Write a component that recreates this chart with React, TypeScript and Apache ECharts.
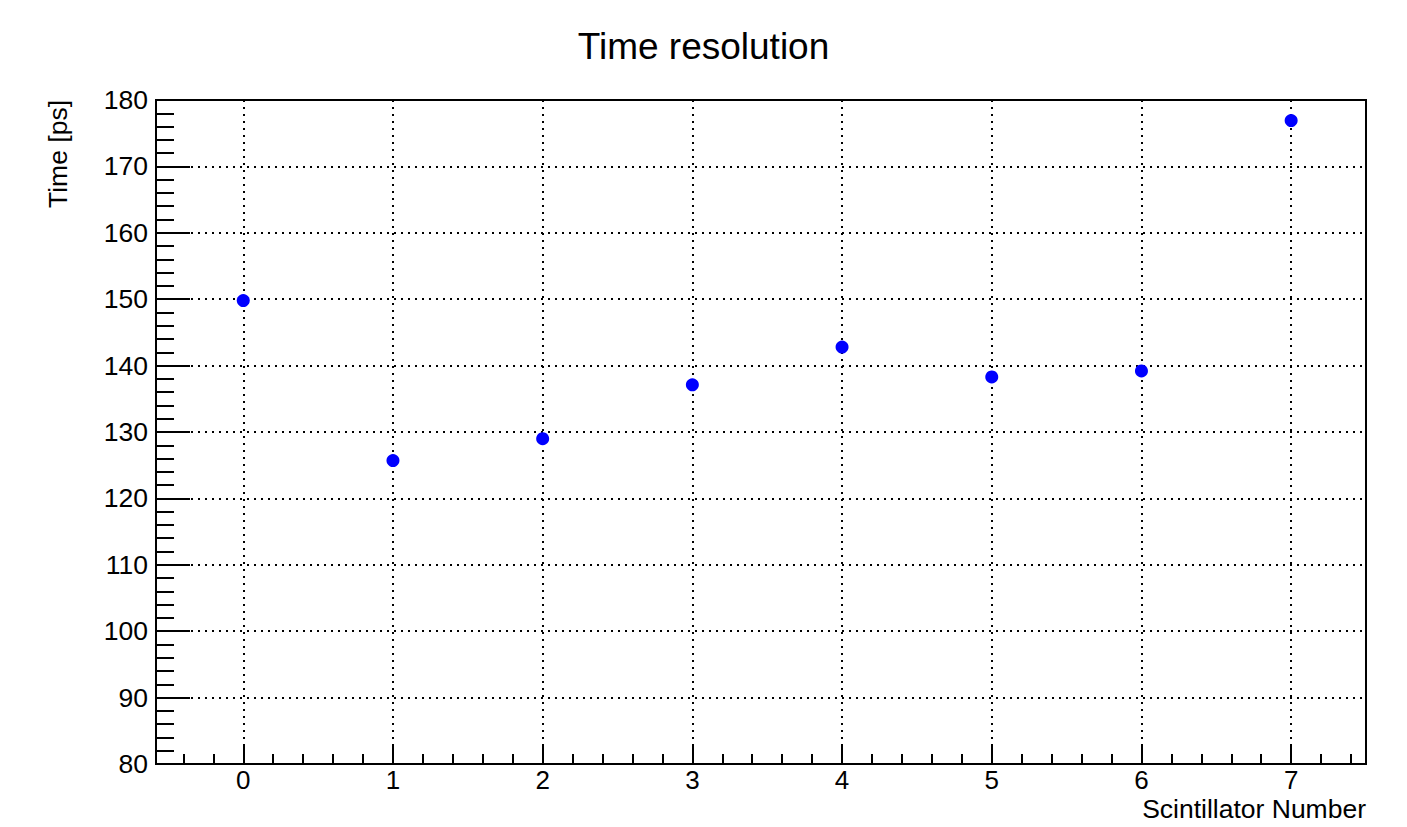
import React, { useEffect, useRef } from "react";
import * as echarts from "echarts";

const scintillators = [0, 1, 2, 3, 4, 5, 6, 7];
const timeResolution = [149.8, 125.7, 129.0, 137.1, 142.8, 138.3, 139.2, 176.9];
const xMajorTicks = [0, 1, 2, 3, 4, 5, 6, 7];
const xMinorTicks = [
  -0.4, -0.2, 0.2, 0.4, 0.6, 0.8, 1.2, 1.4, 1.6, 1.8, 2.2, 2.4, 2.6, 2.8,
  3.2, 3.4, 3.6, 3.8, 4.2, 4.4, 4.6, 4.8, 5.2, 5.4, 5.6, 5.8, 6.2, 6.4, 6.6, 6.8,
  7.2, 7.4,
];

const FONT = "Liberation Sans, Arial, sans-serif";

export default function App() {
  const ref = useRef<HTMLDivElement>(null);
  useEffect(() => {
    if (!ref.current) return;
    const chart = echarts.init(ref.current, null, { renderer: "svg" });
    const dotted = { color: "#000", width: 2, type: [2, 5] as any };
    chart.setOption({
      animation: false,
      backgroundColor: "#fff",
      title: {
        text: "Time resolution",
        left: "center",
        top: 23,
        textStyle: { fontFamily: FONT, fontSize: 37, fontWeight: "normal", color: "#000" },
      },
      grid: {
        left: 156,
        right: 41,
        top: 100,
        bottom: 63,
        show: true,
        borderColor: "#000",
        borderWidth: 2,
        backgroundColor: "transparent",
      },
      xAxis: [
        {
          type: "value",
          min: -0.583,
          max: 7.5,
          axisLine: { show: true, onZero: false, lineStyle: { color: "#000", width: 2 } },
          axisTick: {
            show: true,
            inside: true,
            length: 19,
            customValues: xMajorTicks,
            lineStyle: { color: "#000", width: 2 },
          },
          axisLabel: {
            show: true,
            customValues: xMajorTicks,
            margin: 3,
            fontFamily: FONT,
            fontSize: 26,
            color: "#000",
          },
          splitLine: { show: true, lineStyle: dotted },
        },
        {
          type: "value",
          position: "bottom",
          min: -0.583,
          max: 7.5,
          axisLine: { show: false, onZero: false },
          axisTick: {
            show: true,
            inside: true,
            length: 10,
            customValues: xMinorTicks,
            lineStyle: { color: "#000", width: 2 },
          },
          axisLabel: { show: false },
          splitLine: { show: false },
        },
      ],
      yAxis: {
        type: "value",
        min: 80,
        max: 180,
        interval: 10,
        axisLine: { show: true, onZero: false, lineStyle: { color: "#000", width: 2 } },
        axisTick: { show: true, inside: true, length: 34, lineStyle: { color: "#000", width: 2 } },
        minorTick: { show: true, splitNumber: 5, length: 18, lineStyle: { color: "#000", width: 2 } },
        axisLabel: { margin: 8, fontFamily: FONT, fontSize: 26.5, color: "#000" },
        splitLine: { show: true, lineStyle: dotted },
      },
      graphic: [
        {
          type: "text",
          x: 1366,
          y: 809,
          style: {
            text: "Scintillator Number",
            align: "right",
            verticalAlign: "middle",
            fontFamily: FONT,
            fontSize: 26.5,
            fill: "#000",
          },
        },
        {
          type: "text",
          x: 58,
          y: 100,
          rotation: Math.PI / 2,
          style: {
            text: "Time [ps]",
            align: "right",
            verticalAlign: "middle",
            fontFamily: FONT,
            fontSize: 26.5,
            fill: "#000",
          },
        },
      ],
      series: [
        {
          type: "scatter",
          xAxisIndex: 0,
          symbol: "circle",
          symbolSize: 13,
          itemStyle: { color: "#0000ff", opacity: 1 },
          data: scintillators.map((x, i) => [x, timeResolution[i]]),
        },
      ],
    });
    return () => chart.dispose();
  }, []);
  return (
    <div
      ref={ref}
      style={{ position: "fixed", left: 0, top: 0, width: 1407, height: 827 }}
    />
  );
}
